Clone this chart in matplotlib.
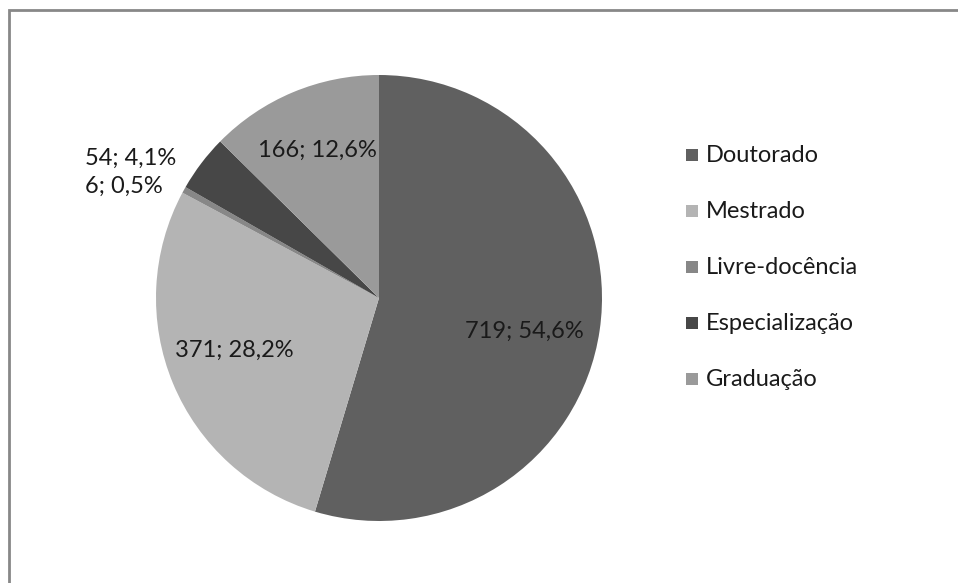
import numpy as np
import matplotlib.pyplot as plt
from matplotlib.patches import Rectangle

labels = ['Doutorado', 'Mestrado', 'Livre-docência', 'Especialização', 'Graduação']
values = [719, 371, 6, 54, 166]
pct_text = ['54,6%', '28,2%', '0,5%', '4,1%', '12,6%']
colors = ['#606060', '#b4b4b4', '#878787', '#474747', '#9a9a9a']

# label placement: distance from centre (fraction of radius), angle shift in degrees
label_dist = [0.67, 0.69, 1.25, 1.28, 0.72]
label_shift = [-4.4, -2.6, 5.4, 7.8, 0.0]

plt.rcParams['font.family'] = ['Lato', 'DejaVu Sans']
fig = plt.figure(figsize=(9.58, 5.83), dpi=100)
ax = fig.add_axes([0, 0, 1, 1])

H = 583
# frame (only top and left visible)
ax.add_patch(Rectangle((9, H - 10 - 1000), 1000, 1000, fill=False, edgecolor='#888888', lw=2))

cx, cy, r = 379, H - 298, 223
wedges, _ = ax.pie(values, colors=colors, startangle=90, counterclock=False,
                   radius=r, center=(cx, cy), frame=True,
                   wedgeprops=dict(linewidth=0))
ax.set_xlim(0, 958)
ax.set_ylim(0, H)
ax.set_aspect('equal')
ax.axis('off')

tot = sum(values)
start = 90.0
for v, p, d, s in zip(values, pct_text, label_dist, label_shift):
    ang = np.deg2rad(start - v / tot * 360 / 2 + s)
    start -= v / tot * 360
    tx = cx + d * r * np.cos(ang)
    ty = cy + d * r * np.sin(ang)
    ax.text(tx, ty, f'{v}; {p}', ha='center', va='center', fontsize=17, color='#1a1a1a')

# legend
for i, (lab, c) in enumerate(zip(labels, colors)):
    y = H - (155 + i * 56)
    ax.add_patch(Rectangle((686, y - 6), 12, 12, color=c, lw=0))
    ax.text(706, y, lab, ha='left', va='center', fontsize=17, color='#1a1a1a')

fig.savefig('out.png', dpi=100)
